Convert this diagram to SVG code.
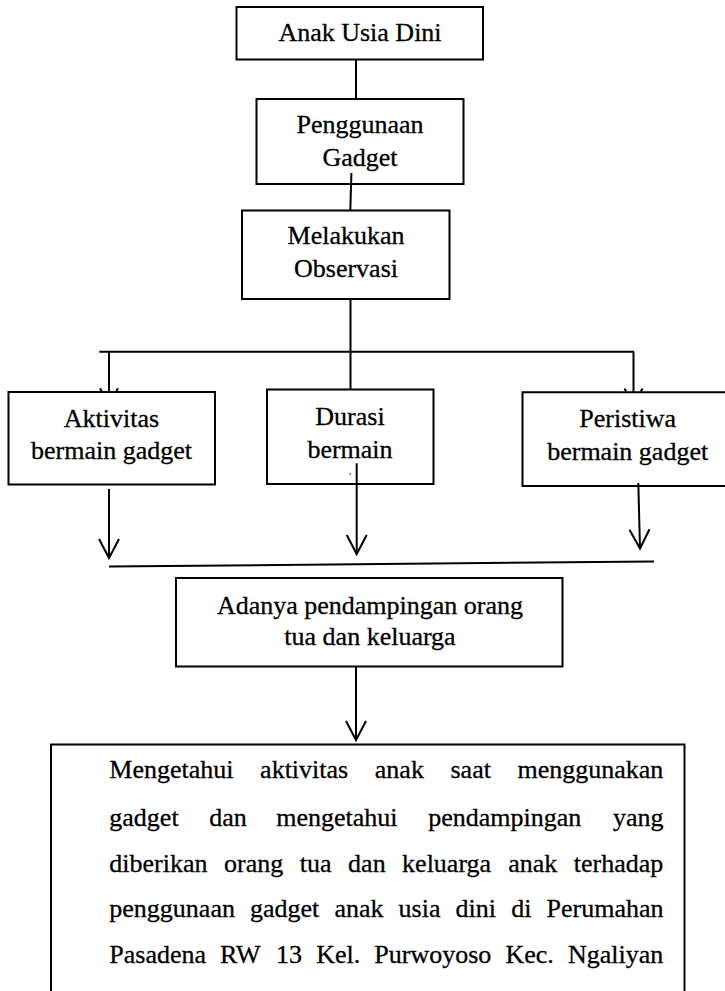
<svg xmlns="http://www.w3.org/2000/svg" width="725" height="991" viewBox="0 0 725 991">
<style>
.box{fill:#fff;stroke:#000;stroke-width:2}
.ln{fill:none;stroke:#000;stroke-width:2}
.t{font-family:"Liberation Serif","Times New Roman",serif;font-size:26px;fill:#000;stroke:#000;stroke-width:0.3}
.c{text-anchor:middle}
</style>
<defs>
<marker id="v" markerUnits="userSpaceOnUse" markerWidth="30" markerHeight="30" viewBox="-25 -15 30 30" refX="0" refY="0" orient="auto" overflow="visible">
<path d="M-19,-10 L0,0 L-19,10" fill="none" stroke="#000" stroke-width="2"/>
</marker>
</defs>
<rect width="725" height="991" fill="#fff"/>
<g id="n1"><rect class="box" x="236.5" y="7" width="246.5" height="52.5"/><text class="t c" x="360" y="41">Anak Usia Dini</text></g>
<g id="n2"><rect class="box" x="256.5" y="99" width="207" height="85"/><text class="t c" x="360" y="133">Penggunaan</text><text class="t c" x="360" y="166">Gadget</text></g>
<g id="n3"><rect class="box" x="242" y="210.5" width="207.5" height="88.5"/><text class="t c" x="346" y="244">Melakukan</text><text class="t c" x="346" y="277">Observasi</text></g>
<g id="n4"><rect class="box" x="8.5" y="392" width="206.5" height="92.5"/><text class="t c" x="111.5" y="427">Aktivitas</text><text class="t c" x="111.5" y="459">bermain gadget</text></g>
<g id="n5"><rect class="box" x="267" y="389.5" width="166.5" height="94.5"/><text class="t c" x="350" y="425">Durasi</text><text class="t c" x="350" y="457.5">bermain</text></g>
<g id="n6"><path class="box" d="M726,392.3 H522.5 V486 H726"/><text class="t c" x="627.7" y="426.7">Peristiwa</text><text class="t c" x="627.7" y="459.5">bermain gadget</text></g>
<g id="n7"><rect class="box" x="176" y="578" width="386.5" height="88.5"/><text class="t c" x="370" y="613.5">Adanya pendampingan orang</text><text class="t c" x="370" y="645">tua dan keluarga</text></g>
<g id="n8"><path class="box" d="M51,995 V744.5 H684.5 V995"/>
<text class="t" y="778.3"><tspan x="109.3">Mengetahui</tspan><tspan x="260.1">aktivitas</tspan><tspan x="374.8">anak</tspan><tspan x="450.5">saat</tspan><tspan x="517.5">menggunakan</tspan></text>
<text class="t" y="825.5"><tspan x="109.3">gadget</tspan><tspan x="209.2">dan</tspan><tspan x="276.3">mengetahui</tspan><tspan x="428.2">pendampingan</tspan><tspan x="612.9">yang</tspan></text>
<text class="t" y="872.2"><tspan x="109.3">diberikan</tspan><tspan x="224">orang</tspan><tspan x="299.8">tua</tspan><tspan x="348.1">dan</tspan><tspan x="402.1">keluarga</tspan><tspan x="508.2">anak</tspan><tspan x="573.8">terhadap</tspan></text>
<text class="t" y="916.7"><tspan x="109.3">penggunaan</tspan><tspan x="250">gadget</tspan><tspan x="334.4">anak</tspan><tspan x="398.6">usia</tspan><tspan x="455.6">dini</tspan><tspan x="511.2">di</tspan><tspan x="546.5">Perumahan</tspan></text>
<text class="t" y="963.3"><tspan x="109.3">Pasadena</tspan><tspan x="220.1">RW</tspan><tspan x="276.1">13</tspan><tspan x="316.2">Kel.</tspan><tspan x="374.3">Purwoyoso</tspan><tspan x="505.4">Kec.</tspan><tspan x="568">Ngaliyan</tspan></text>
</g>
<g id="connectors">
<line class="ln" x1="356" y1="59.5" x2="356" y2="99"/>
<line class="ln" x1="351.4" y1="173" x2="350.3" y2="210.5"/>
<line class="ln" x1="350.5" y1="299" x2="350.5" y2="389.5"/>
<line class="ln" x1="99.3" y1="351.7" x2="634" y2="351.7"/>
<line class="ln" x1="109" y1="351.7" x2="109" y2="392"/>
<line class="ln" x1="633.5" y1="351.7" x2="633.5" y2="392.3"/>
<path class="ln" d="M100,388.3 L101.6,391.2 M118,388.3 L116.4,391.2 M624.5,388.5 L626.1,391.5 M642.5,388.5 L640.9,391.5"/>
<line class="ln" x1="109" y1="489" x2="109" y2="558" marker-end="url(#v)"/>
<line class="ln" x1="356.7" y1="463.3" x2="356.7" y2="554" marker-end="url(#v)"/>
<line class="ln" x1="638.3" y1="483" x2="640" y2="548.5" marker-end="url(#v)"/>
<line class="ln" x1="349.5" y1="474" x2="351" y2="474" style="stroke-width:1"/>
<line class="ln" x1="109" y1="566.5" x2="654" y2="561.5"/>
<line class="ln" x1="356" y1="666.5" x2="356" y2="740" marker-end="url(#v)"/>
</g>
</svg>
